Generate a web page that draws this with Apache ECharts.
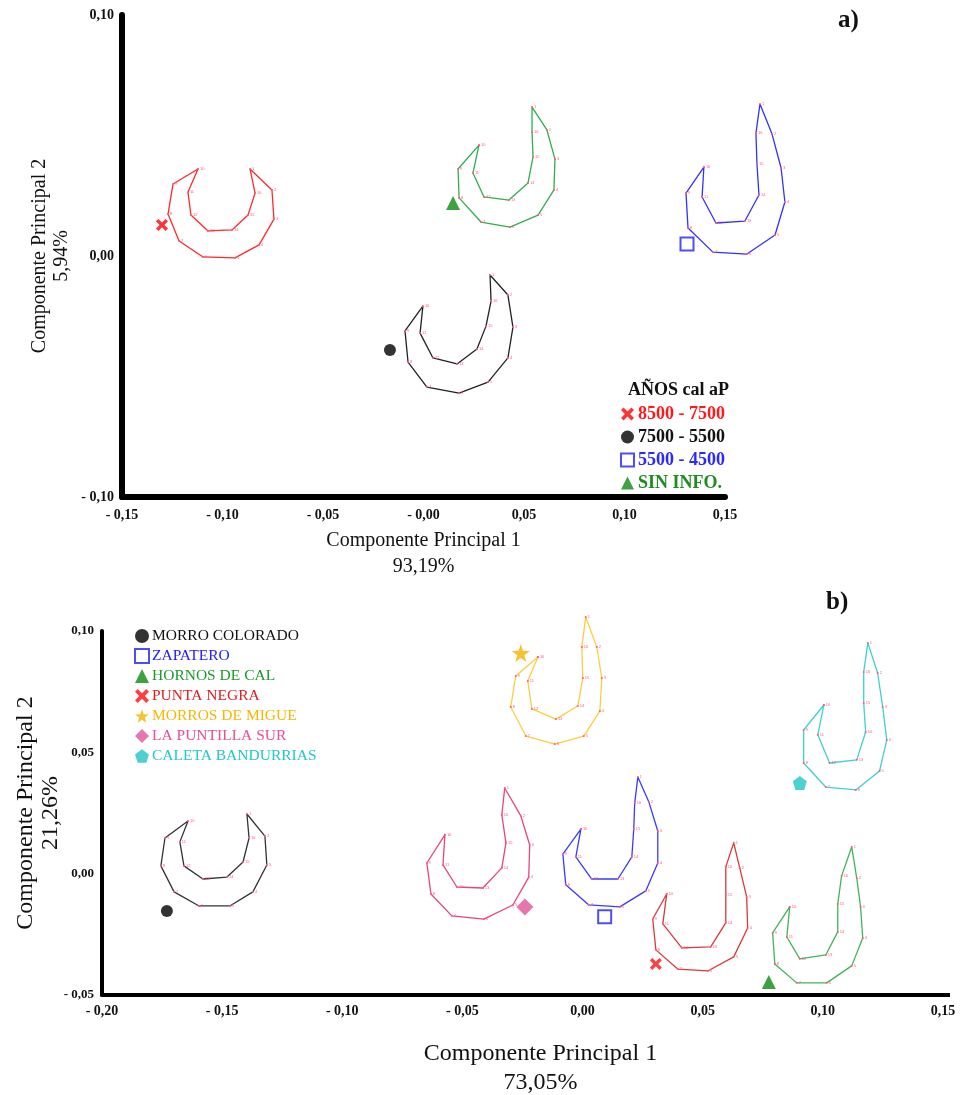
<!DOCTYPE html>
<html>
<head>
<meta charset="utf-8">
<script src="https://cdn.jsdelivr.net/npm/echarts@6/dist/echarts.min.js"></script>
<style>
html, body { margin: 0; padding: 0; background: #fff; }
#chart { width: 964px; height: 1095px; }
</style>
</head>
<body>
<div id="chart"></div>
<script>
// ---- panel a) ----
const topGroups = ['8500 - 7500', '7500 - 5500', '5500 - 4500', 'SIN INFO.']
const topMarkers = [[-0.1301, 0.0129], [-0.0167, -0.0390], [0.1311, 0.0050], [0.0147, 0.0220]]
const topRedOutline = [[-0.1122, 0.0361], [-0.1246, 0.0299], [-0.1271, 0.0174], [-0.1216, 0.0062], [-0.1097, -0.0004], [-0.0938, -0.0008], [-0.0818, 0.0046], [-0.0744, 0.0153], [-0.0754, 0.0274], [-0.0863, 0.0361], [-0.0838, 0.0261], [-0.0873, 0.0170], [-0.0953, 0.0108], [-0.1072, 0.0104], [-0.1157, 0.0170], [-0.1172, 0.0265]]
const topBlackOutline = [[-0.0003, -0.0208], [-0.0092, -0.0311], [-0.0077, -0.0440], [0.0017, -0.0544], [0.0177, -0.0569], [0.0321, -0.0523], [0.0420, -0.0423], [0.0445, -0.0295], [0.0420, -0.0162], [0.0331, -0.0079], [0.0336, -0.0187], [0.0311, -0.0291], [0.0266, -0.0386], [0.0167, -0.0448], [0.0047, -0.0423], [-0.0017, -0.0320]]
const topBlueOutline = [[0.1395, 0.0369], [0.1306, 0.0261], [0.1316, 0.0116], [0.1440, 0.0016], [0.1609, 0.0008], [0.1749, 0.0087], [0.1798, 0.0224], [0.1779, 0.0365], [0.1734, 0.0506], [0.1674, 0.0631], [0.1654, 0.0510], [0.1659, 0.0382], [0.1669, 0.0253], [0.1599, 0.0145], [0.1455, 0.0137], [0.1386, 0.0245]]
const topGreenOutline = [[0.0276, 0.0460], [0.0172, 0.0361], [0.0177, 0.0241], [0.0286, 0.0141], [0.0430, 0.0120], [0.0570, 0.0170], [0.0649, 0.0274], [0.0654, 0.0402], [0.0614, 0.0523], [0.0540, 0.0618], [0.0540, 0.0514], [0.0545, 0.0411], [0.0520, 0.0303], [0.0425, 0.0232], [0.0301, 0.0245], [0.0246, 0.0344]]
const topOutlines = [topRedOutline, topBlackOutline, topBlueOutline, topGreenOutline]
const topXLabels = ['- 0,15', '- 0,10', '- 0,05', '- 0,00', '0,05', '0,10', '0,15']
const topYLabels = ['- 0,10', '0,00', '0,10']

// ---- panel b) ----
const bottomGroups = ['MORRO COLORADO', 'ZAPATERO', 'HORNOS DE CAL', 'PUNTA NEGRA', 'MORROS DE MIGUE', 'LA PUNTILLA SUR', 'CALETA BANDURRIAS']
const bottomMarkers = [[-0.1730, -0.0154], [0.0092, -0.0178], [0.0775, -0.0446], [0.0305, -0.0372], [-0.0257, 0.0909], [-0.0240, -0.0137], [0.0904, 0.0374]]
const morroColoradoOutline = [[-0.1642, 0.0217], [-0.1738, 0.0147], [-0.1755, 0.0032], [-0.1700, -0.0075], [-0.1596, -0.0133], [-0.1468, -0.0133], [-0.1372, -0.0075], [-0.1314, 0.0036], [-0.1322, 0.0155], [-0.1397, 0.0246], [-0.1388, 0.0147], [-0.1413, 0.0048], [-0.1480, -0.0014], [-0.1580, -0.0022], [-0.1659, 0.0032], [-0.1676, 0.0131]]
const zapateroOutline = [[-0.0007, 0.0184], [-0.0082, 0.0081], [-0.0070, -0.0046], [0.0026, -0.0129], [0.0155, -0.0137], [0.0263, -0.0071], [0.0313, 0.0044], [0.0313, 0.0176], [0.0276, 0.0295], [0.0230, 0.0398], [0.0217, 0.0291], [0.0213, 0.0184], [0.0205, 0.0069], [0.0147, -0.0022], [0.0038, -0.0022], [-0.0028, 0.0069]]
const hornosOutline = [[0.0862, -0.0137], [0.0791, -0.0244], [0.0800, -0.0372], [0.0891, -0.0450], [0.1016, -0.0450], [0.1120, -0.0380], [0.1166, -0.0265], [0.1157, -0.0137], [0.1141, -0.0018], [0.1120, 0.0110], [0.1078, -0.0009], [0.1062, -0.0125], [0.1062, -0.0240], [0.1012, -0.0335], [0.0904, -0.0351], [0.0850, -0.0261]]
const puntaNegraOutline = [[0.0350, -0.0084], [0.0292, -0.0187], [0.0305, -0.0314], [0.0396, -0.0393], [0.0521, -0.0401], [0.0629, -0.0343], [0.0687, -0.0224], [0.0683, -0.0096], [0.0654, 0.0024], [0.0629, 0.0127], [0.0596, 0.0028], [0.0596, -0.0088], [0.0596, -0.0203], [0.0533, -0.0302], [0.0413, -0.0306], [0.0334, -0.0207]]
const morrosMigueOutline = [[-0.0186, 0.0893], [-0.0278, 0.0815], [-0.0299, 0.0687], [-0.0236, 0.0567], [-0.0116, 0.0534], [0.0005, 0.0567], [0.0072, 0.0670], [0.0080, 0.0806], [0.0059, 0.0934], [0.0013, 0.1058], [-0.0003, 0.0934], [0.0001, 0.0806], [-0.0020, 0.0691], [-0.0111, 0.0637], [-0.0211, 0.0679], [-0.0228, 0.0794]]
const puntillaOutline = [[-0.0573, 0.0160], [-0.0648, 0.0044], [-0.0631, -0.0084], [-0.0544, -0.0174], [-0.0411, -0.0187], [-0.0290, -0.0129], [-0.0224, -0.0014], [-0.0220, 0.0118], [-0.0257, 0.0238], [-0.0324, 0.0353], [-0.0336, 0.0242], [-0.0319, 0.0127], [-0.0336, 0.0024], [-0.0415, -0.0059], [-0.0523, -0.0055], [-0.0581, 0.0036]]
const bandurriasOutline = [[0.1004, 0.0695], [0.0920, 0.0592], [0.0920, 0.0456], [0.1012, 0.0357], [0.1137, 0.0345], [0.1236, 0.0423], [0.1266, 0.0551], [0.1249, 0.0687], [0.1228, 0.0827], [0.1187, 0.0951], [0.1170, 0.0831], [0.1170, 0.0703], [0.1178, 0.0584], [0.1141, 0.0469], [0.1028, 0.0456], [0.0979, 0.0572]]
const bottomOutlines = [morroColoradoOutline, zapateroOutline, hornosOutline, puntaNegraOutline, morrosMigueOutline, puntillaOutline, bandurriasOutline]
const bottomXLabels = ['- 0,20', '- 0,15', '- 0,10', '- 0,05', '0,00', '0,05', '0,10', '0,15']
const bottomYLabels = ['- 0,05', '0,00', '0,05', '0,10']

// landmark numbers, in outline order
const landmarkIds = [10, 9, 8, 7, 6, 5, 4, 3, 2, 1, 16, 15, 14, 13, 12, 11]

// ---- styles ----
const CROSS = 'path://M2,0L5,3L8,0L10,2L7,5L10,8L8,10L5,7L2,10L0,8L3,5L0,2Z'
const STAR = 'path://M10,0L12.35,6.76L19.51,6.91L13.8,11.24L15.88,18.09L10,14L4.12,18.09L6.2,11.24L0.49,6.91L7.65,6.76Z'
const PENTAGON = 'path://M10,0L19.51,6.91L15.88,18.09L4.12,18.09L0.49,6.91Z'

const topLineColors = ['#ff2a2a', '#222222', '#3232ff', '#2fae4e']
const topMarkerStyles = [
  { symbol: CROSS, size: 12, color: '#ff0000' },
  { symbol: 'circle', size: 12, color: '#000000' },
  { symbol: 'rect', size: 13, color: '#2020ff', hollow: true },
  { symbol: 'triangle', size: 14, color: '#0e8a12' }
]
const topTextColors = ['#ff1a1a', '#111111', '#2a2aff', '#1e8c1e']

const bottomLineColors = ['#333333', '#3a3aff', '#3fb55a', '#d83a3a', '#ffcc40', '#e8457a', '#3fd0d0']
const bottomMarkerStyles = [
  { symbol: 'circle', size: 12, color: '#000000' },
  { symbol: 'rect', size: 13, color: '#2020ff', hollow: true },
  { symbol: 'triangle', size: 14, color: '#0e8a12' },
  { symbol: CROSS, size: 12, color: '#ff1010' },
  { symbol: STAR, size: 18, color: '#f5b400' },
  { symbol: 'diamond', size: 17, color: '#e0559a' },
  { symbol: PENTAGON, size: 14, color: '#20c4c4' }
]
const bottomTextColors = ['#111111', '#2020ff', '#1a9a2a', '#e02020', '#f5b800', '#ea4c9a', '#20c8c8']

const serif = '"Liberation Serif", "DejaVu Serif", serif'

// panel a) shapes run past the drawn x axis (0.15), so they sit on a hidden
// wider axis with the same scale: 603px per 0.30 -> 703.5px per 0.35
const TOP_LEFT = 122
const TOP_WIDTH = 603
const TOP_WIDE_WIDTH = TOP_WIDTH * 0.35 / 0.30

function markerItemStyle (m) {
  return m.hollow
    ? { color: '#ffffff', borderColor: m.color, borderWidth: 2 }
    : { color: m.color }
}

function buildSeries (groups, outlines, markers, lineColors, markerStyles, axisIdx) {
  const series = []
  groups.forEach((name, i) => {
    series.push({
      name: name + ' contorno',
      type: 'line',
      xAxisIndex: axisIdx,
      yAxisIndex: axisIdx,
      clip: false,
      silent: true,
      symbol: 'circle',
      symbolSize: 2,
      itemStyle: { color: '#ff5c7a' },
      lineStyle: { color: lineColors[i], width: 1.3 },
      label: {
        show: true,
        position: 'right',
        distance: 1,
        fontSize: 4,
        color: '#ff5c7a',
        formatter: p => (p.dataIndex < landmarkIds.length ? String(landmarkIds[p.dataIndex]) : '')
      },
      data: outlines[i].concat([outlines[i][0]]),
      z: 2
    })
  })
  groups.forEach((name, i) => {
    const m = markerStyles[i]
    series.push({
      name: name,
      type: 'scatter',
      xAxisIndex: axisIdx,
      yAxisIndex: axisIdx,
      clip: false,
      symbol: m.symbol,
      symbolSize: m.size,
      itemStyle: markerItemStyle(m),
      data: [markers[i]],
      z: 3
    })
  })
  return series
}

function legendData (groups, markerStyles, textColors) {
  return groups.map((name, i) => ({
    name: name,
    icon: markerStyles[i].symbol,
    itemStyle: markerItemStyle(markerStyles[i]),
    textStyle: { color: textColors[i] }
  }))
}

const axisCommon = {
  type: 'value',
  splitLine: { show: false },
  axisTick: { show: false },
  nameLocation: 'middle',
  nameMoveOverlap: false,
  nameTextStyle: { fontFamily: serif, color: '#111' }
}

const chart = echarts.init(document.getElementById('chart'), null, { renderer: 'canvas' })

const option = {
  animation: false,
  backgroundColor: '#ffffff',
  grid: [
    { left: TOP_LEFT, top: 15, width: TOP_WIDTH, height: 482, outerBoundsMode: 'none' },
    { left: 102, top: 631, width: 841, height: 364, outerBoundsMode: 'none' },
    { left: TOP_LEFT, top: 15, width: TOP_WIDE_WIDTH, height: 482, outerBoundsMode: 'none' }
  ],
  xAxis: [
    Object.assign({}, axisCommon, {
      gridIndex: 0, min: -0.15, max: 0.15, interval: 0.05,
      axisLine: { onZero: false, lineStyle: { color: '#000', width: 6 } },
      axisLabel: {
        margin: 11, fontFamily: serif, fontWeight: 'bold', fontSize: 14, color: '#111',
        formatter: (v, idx) => topXLabels[idx]
      },
      name: 'Componente Principal 1\n93,19%',
      nameGap: 31,
      nameTextStyle: { fontFamily: serif, color: '#111', fontSize: 20, lineHeight: 26 }
    }),
    Object.assign({}, axisCommon, {
      gridIndex: 1, min: -0.2, max: 0.15, interval: 0.05,
      axisLine: { onZero: false, lineStyle: { color: '#000', width: 4 } },
      axisLabel: {
        margin: 9, fontFamily: serif, fontWeight: 'bold', fontSize: 14, color: '#111',
        formatter: (v, idx) => bottomXLabels[idx]
      },
      name: 'Componente Principal 1\n73,05%',
      nameGap: 44,
      nameTextStyle: { fontFamily: serif, color: '#111', fontSize: 24, lineHeight: 29, padding: [0, 0, 0, 36] }
    }),
    { type: 'value', gridIndex: 2, min: -0.15, max: 0.20, show: false }
  ],
  yAxis: [
    Object.assign({}, axisCommon, {
      gridIndex: 0, min: -0.1, max: 0.1, interval: 0.1,
      axisLine: { onZero: false, lineStyle: { color: '#000', width: 6 } },
      axisLabel: {
        margin: 8, fontFamily: serif, fontWeight: 'bold', fontSize: 14, color: '#111',
        formatter: (v, idx) => topYLabels[idx]
      },
      name: 'Componente Principal 2\n5,94%',
      nameGap: 49,
      nameRotate: 90,
      nameTextStyle: { fontFamily: serif, color: '#111', fontSize: 20, lineHeight: 22 }
    }),
    Object.assign({}, axisCommon, {
      gridIndex: 1, min: -0.05, max: 0.1, interval: 0.05,
      axisLine: { onZero: false, lineStyle: { color: '#000', width: 4 } },
      axisLabel: {
        margin: 8, fontFamily: serif, fontWeight: 'bold', fontSize: 13, color: '#111',
        formatter: (v, idx) => bottomYLabels[idx]
      },
      name: 'Componente Principal 2\n21,26%',
      nameGap: 39,
      nameRotate: 90,
      nameTextStyle: { fontFamily: serif, color: '#111', fontSize: 24, lineHeight: 25 }
    }),
    { type: 'value', gridIndex: 2, min: -0.1, max: 0.1, show: false }
  ],
  legend: [
    {
      left: 615, top: 400, orient: 'vertical', selectedMode: false,
      itemWidth: 13, itemHeight: 13, itemGap: 5,
      textStyle: { fontFamily: serif, fontWeight: 'bold', fontSize: 18, lineHeight: 18, padding: [0, 0, 0, -1] },
      data: legendData(topGroups, topMarkerStyles, topTextColors)
    },
    {
      left: 129, top: 623, orient: 'vertical', selectedMode: false,
      itemWidth: 14, itemHeight: 14, itemGap: 4,
      textStyle: { fontFamily: serif, fontSize: 15.5, lineHeight: 16, padding: [0, 0, 0, -2] },
      data: legendData(bottomGroups, bottomMarkerStyles, bottomTextColors)
    }
  ],
  graphic: [
    { type: 'text', left: 628, top: 381, style: { text: 'AÑOS cal aP', font: 'bold 18px ' + serif, fill: '#111' } },
    { type: 'text', left: 838, top: 8, style: { text: 'a)', font: 'bold 25px ' + serif, fill: '#111' } },
    { type: 'text', left: 826, top: 590, style: { text: 'b)', font: 'bold 25px ' + serif, fill: '#111' } },
    // the lower x axis line runs a little past its last tick
    { type: 'rect', left: 940, top: 993, shape: { width: 10, height: 4 }, style: { fill: '#000' } }
  ],
  series: buildSeries(topGroups, topOutlines, topMarkers, topLineColors, topMarkerStyles, 2)
    .concat(buildSeries(bottomGroups, bottomOutlines, bottomMarkers, bottomLineColors, bottomMarkerStyles, 1))
}

chart.setOption(option)
</script>
</body>
</html>
